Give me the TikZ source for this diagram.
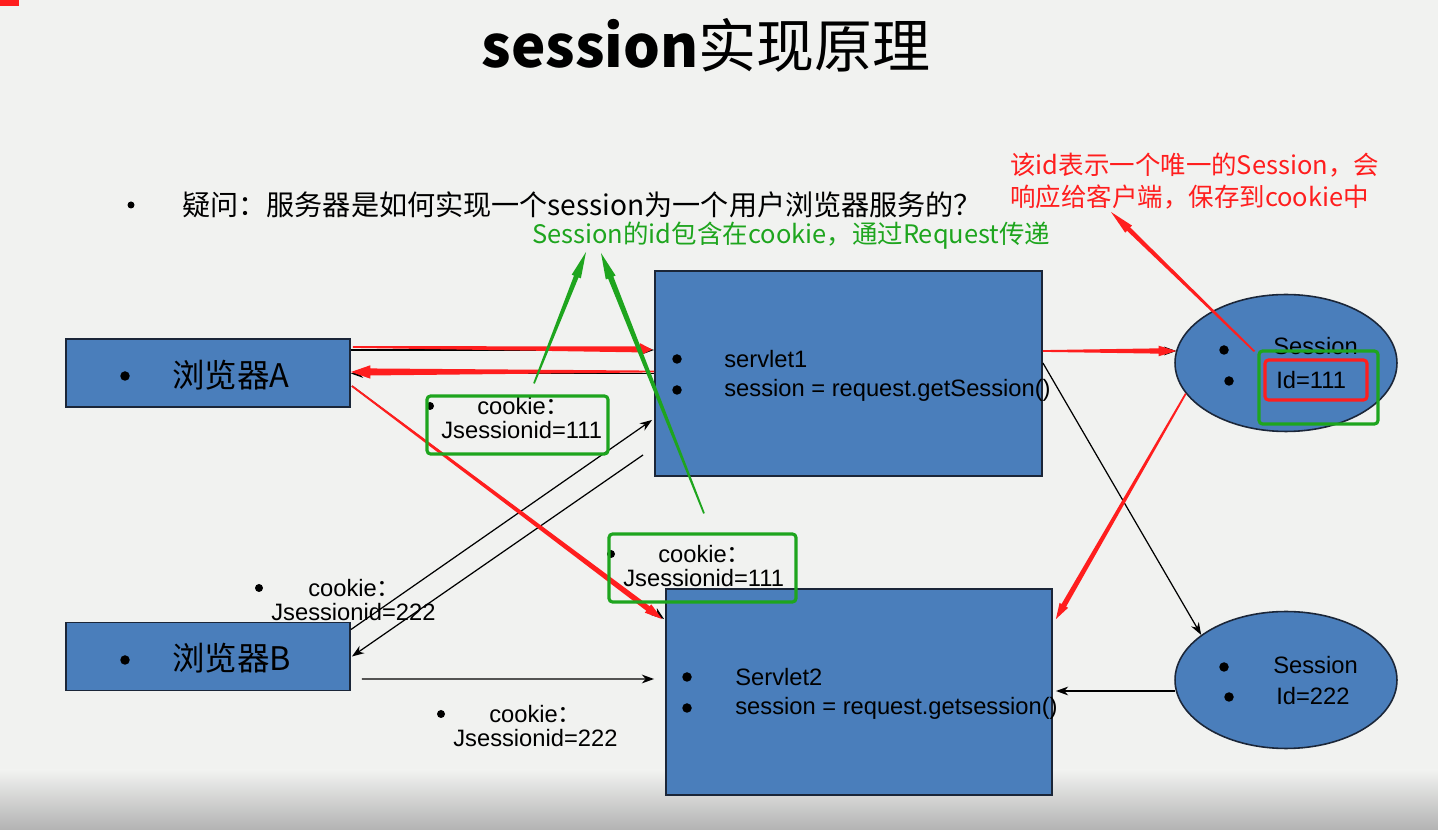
\documentclass[tikz,border=0pt]{standalone}
\usepackage{fontspec}
\setmainfont{Liberation Sans}
\newfontfamily\cjk{Noto Sans CJK SC}
\usetikzlibrary{arrows.meta,positioning,calc,shapes.geometric}
\definecolor{paper}{HTML}{F1F2F0}
\definecolor{boxblue}{HTML}{4A7EBB}
\definecolor{boxline}{HTML}{1B2638}
\definecolor{redmark}{HTML}{FF1E1E}
\definecolor{greenmark}{HTML}{1EA51E}

\tikzset{
  pane/.style={draw=boxline, fill=boxblue, line width=1.1pt, inner sep=0pt},
  sess/.style={ellipse, draw=boxline, fill=boxblue, line width=0.9pt, inner sep=0pt,
    minimum width=4.44cm, minimum height=2.74cm},
  bul/.style={circle, fill=black, inner sep=0pt, minimum size=0.19cm},
  txt/.style={anchor=west, inner sep=0pt, font=\fontsize{13.5}{16}\selectfont},
  wire/.style={draw=black, line width=0.7pt, -{Stealth[length=7pt,width=5pt]}},
  gbox/.style={draw=greenmark, line width=1.8pt, rounded corners=2pt, inner sep=0pt},
}

% marker arrow: colour, tail, tip, neck half width, head half width, head length
\newcommand{\taper}[6]{%
  \path ($(#3)!#6!(#2)$) coordinate (tpn);
  \fill[#1] ($(#2)!0.5pt!90:(#3)$) -- ($(tpn)!#4!90:(#3)$) -- ($(tpn)!#5!90:(#3)$) -- (#3)
    -- ($(tpn)!#5!-90:(#3)$) -- ($(tpn)!#4!-90:(#3)$) -- ($(#2)!0.5pt!-90:(#3)$) -- cycle;
}

\begin{document}
\begin{tikzpicture}[x=0.02cm, y=-0.02cm, >=Stealth]
  % slide
  \fill[paper] (0,0) rectangle (1438,830);
  \shade[top color=paper, bottom color=gray!60] (0,770) rectangle (1438,830);
  \fill[redmark] (0,0) rectangle (19,6);
  \useasboundingbox (0,0) rectangle (1438,830);
  \node[font=\fontsize{33}{40}\selectfont] (title) at (706,45) {\cjk\bfseries session\mdseries 实现原理};
  \node[bul, minimum size=0.14cm] (qdot) at (131,205) {};
  \node[anchor=west, inner sep=0pt, font=\cjk\fontsize{16}{19}\selectfont] (question) at (182,205)
    {疑问：服务器是如何实现一个session为一个用户浏览器服务的？};
  \node[anchor=west, inner sep=0pt, text=greenmark, font=\cjk\fontsize{14.5}{18}\selectfont] (idnote) at (532,236)
    {Session的id包含在cookie，通过Request传递};
  \node[anchor=west, inner sep=0pt, align=left, text=redmark, font=\cjk\fontsize{14.5}{18.2}\selectfont] (uniq) at (1010,181)
    {该id表示一个唯一的Session，会\\响应给客户端，保存到cookie中};

  % browsers, servlets, sessions
  \node[pane, minimum width=5.68cm, minimum height=1.36cm] (browserA) at (208,373) {};
  \node[pane, minimum width=5.68cm, minimum height=1.36cm] (browserB) at (208,656.5) {};
  \node[pane, minimum width=7.74cm, minimum height=4.10cm] (servlet1) at (848.5,373.5) {};
  \node[pane, minimum width=7.72cm, minimum height=4.12cm] (servlet2) at (859,692) {};
  \node[sess] (session1) at (1286,363) {};
  \node[sess] (session2) at (1286,680) {};

  % plain request / response lines
  \coordinate (aTop) at ($(browserA.east)+(0,-23)$);
  \coordinate (s1r) at ($(servlet1.east)+(0,-22.5)$);
  \draw[wire] (aTop) -- (aTop -| servlet1.west);
  \draw[wire] (servlet1.west) -- (servlet1.west -| browserA.east);
  \draw[wire] ($(browserA.east)+(1,13)$) -- ($(servlet2.north west)+(-1,31)$);
  \draw[wire] ($(browserB.north east)+(0,8)$) -- ($(servlet1.south west)+(-2,-57)$);
  \draw[wire] ($(servlet1.south west)+(-11,-22)$) -- ($(browserB.east)+(1,0)$);
  \draw[wire] ($(browserB.east)+(11,22.5)$) -- ($(servlet2.west)+(-11,-13)$);
  \draw[wire] (s1r) -- ($(session1.west)+(2,-12)$);
  \draw[wire] ($(servlet1.east)+(0,-10.5)$) -- (session2.152);
  \draw[wire] ($(session2.west)+(1,11)$) -- ($(servlet2.east)+(3,-1)$);

  % texts in the shapes
  \foreach \x/\y [count=\i] in {125/376, 677/359, 677/390, 687/677, 687/708,
      1224/350, 1229/381, 1224/667, 1229/697, 125/660}
    \node[bul] (dot\i) at (\x,\y) {};
  \node[txt, font=\cjk\fontsize{18.5}{22}\selectfont] (nameA) at (172,375) {浏览器A};
  \node[txt, font=\cjk\fontsize{18.5}{22}\selectfont] (nameB) at (172,658) {浏览器B};
  \node[txt] (s1a) at (724,359) {servlet1};
  \node[txt] (s1b) at (724,390) {session = request.getSession()};
  \node[txt] (s2a) at (735,677) {Servlet2};
  \node[txt] (s2b) at (735,708) {session = request.getsession()};
  \node[txt] (ses1a) at (1273,346) {Session};
  \node[txt] (ses1b) at (1276,380) {Id=111};
  \node[txt] (ses2a) at (1273,665) {Session};
  \node[txt] (ses2b) at (1276,696) {Id=222};

  % cookies sent along
  \foreach \nm/\bx/\by/\cx/\jx/\v in {ckA/430/406/477/441/111, ckB/611/554/658/623/111,
      ckC/259/588/308/271/222, ckD/441/714/489/453/222} {
    \node[bul, minimum size=0.16cm] (\nm-dot) at (\bx,\by) {};
    \node[txt] (\nm-key) at (\cx,\by) {cookie{\cjk ：}};
    \node[txt] (\nm-val) at (\jx,\by+24) {Jsessionid=\v};
  }

  % red marks
  \taper{redmark}{$(browserA.east)+(2,-26)$}{$(servlet1.west)+(-2,-24)$}{1.7pt}{3.6pt}{7pt}
  \taper{redmark}{$(servlet1.west)+(0,-2)$}{$(browserA.east)+(0,-1)$}{2pt}{3.8pt}{11pt}
  \taper{redmark}{$(browserA.east)+(1,13)$}{$(servlet2.north west)+(-3,31)$}{1.6pt}{3pt}{10pt}
  \taper{redmark}{s1r}{$(session1.west)+(2,-12)$}{1.5pt}{3pt}{10pt}
  \taper{redmark}{session1.197}{$(servlet2.north east)+(3,31)$}{1.5pt}{2.8pt}{9pt}

  % green marks
  \node[gbox, minimum width=3.62cm, minimum height=1.16cm] (ckAbox) at (517.5,425) {};
  \node[gbox, minimum width=3.74cm, minimum height=1.36cm] (ckBbox) at (702.5,568) {};
  \node[gbox, minimum width=2.38cm, minimum height=1.46cm] (idgreen) at (1318.5,387.5) {};
  \node[draw=redmark, line width=1.8pt, rounded corners=2pt, minimum width=2.04cm, minimum height=0.8cm] (idred) at (1316,380) {};
  \coordinate (gtip1) at (586,252);
  \coordinate (gtip2) at (601,253);
  \coordinate (rtip) at (1111,212);
  \taper{greenmark}{$(ckAbox.north)+(16.5,-11)$}{gtip1}{1.4pt}{2.8pt}{15pt}
  \taper{greenmark}{$(ckBbox.north)+(1.5,-19)$}{gtip2}{1.6pt}{3pt}{15pt}
  \taper{redmark}{$(idgreen.north west)+(-3,2)$}{rtip}{1.3pt}{2.8pt}{14pt}
\end{tikzpicture}
\end{document}
